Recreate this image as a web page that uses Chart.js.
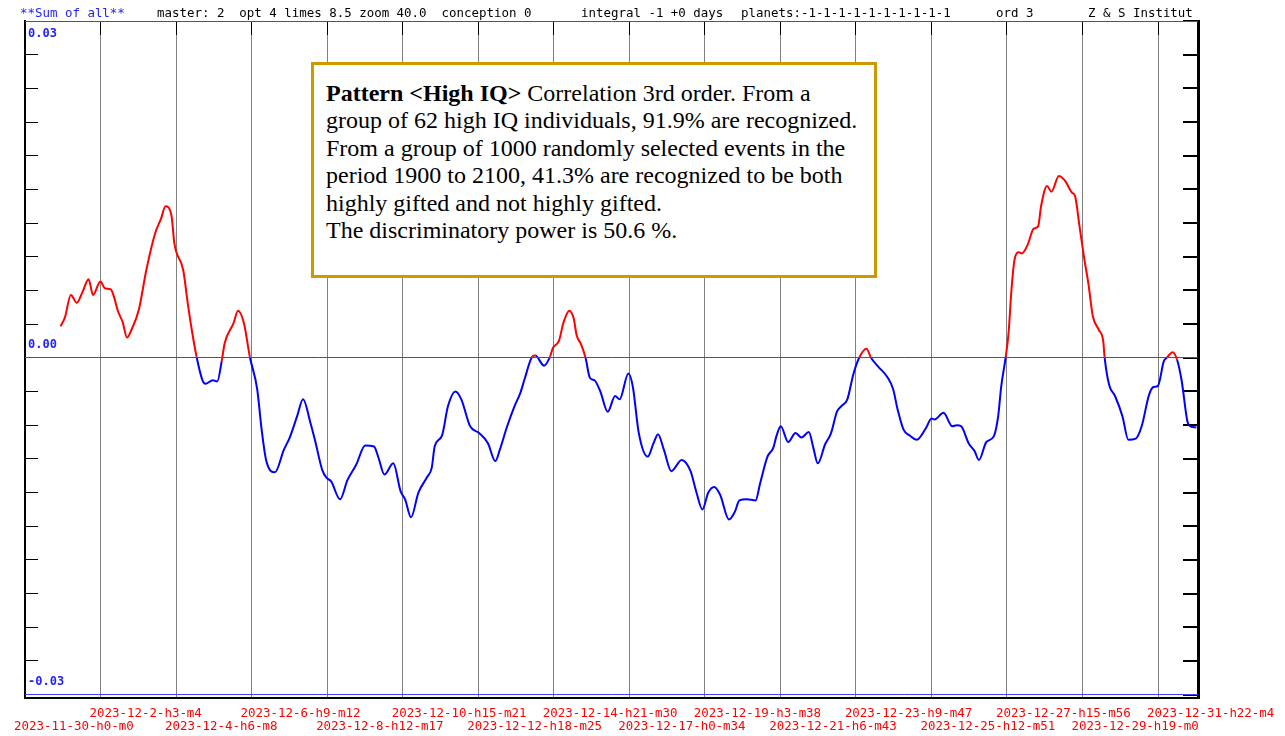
<!DOCTYPE html>
<html>
<head>
<meta charset="utf-8">
<script src="https://cdn.jsdelivr.net/npm/chart.js@4.4.1/dist/chart.umd.min.js"></script>
<style>
html,body{margin:0;padding:0;background:#fff;}
#wrap{position:relative;width:1285px;height:736px;overflow:hidden;background:#fff;}
#c{position:absolute;left:0;top:0;}
.hd{position:absolute;top:6px;font-family:"DejaVu Sans Mono",monospace;font-size:12.45px;line-height:14px;white-space:pre;color:#000;}
#box{position:absolute;left:311px;top:62px;width:566px;height:216px;box-sizing:border-box;border:3px solid #cc9900;background:#fff;
 padding:15px 0 0 12px;font-family:"Liberation Serif","Times New Roman",serif;font-size:24px;line-height:27.4px;white-space:nowrap;color:#000;}
</style>
</head>
<body>
<div id="wrap">
<canvas id="c" width="1285" height="736"></canvas>
<div class="hd" style="left:20px;color:#2222ff">**Sum of all**</div>
<div class="hd" style="left:157px">master: 2  opt 4 limes 8.5 zoom 40.0  conception 0</div>
<div class="hd" style="left:581px">integral -1 +0 days</div>
<div class="hd" style="left:741px">planets:-1-1-1-1-1-1-1-1-1-1</div>
<div class="hd" style="left:996px">ord 3</div>
<div class="hd" style="left:1088px">Z &amp; S Institut</div>
<div id="box"><b>Pattern &lt;High IQ&gt;</b> Correlation 3rd order. From a<br>group of 62 high IQ individuals, 91.9% are recognized.<br>From a group of 1000 randomly selected events in the<br>period 1900 to 2100, 41.3% are recognized to be both<br>highly gifted and not highly gifted.<br>The discriminatory power is 50.6 %.</div>
</div>
<script>
// ---- DATA ----
const xTickLabels = ['2023-11-30-h0-m0','2023-12-2-h3-m4','2023-12-4-h6-m8','2023-12-6-h9-m12','2023-12-8-h12-m17','2023-12-10-h15-m21','2023-12-12-h18-m25','2023-12-14-h21-m30','2023-12-17-h0-m34','2023-12-19-h3-m38','2023-12-21-h6-m43','2023-12-23-h9-m47','2023-12-25-h12-m51','2023-12-27-h15-m56','2023-12-29-h19-m0','2023-12-31-h22-m4'];

// hours since 2023-11-30 h0 m0
const hours = [24,27,31,35,39,43,46,51,54,58,60,63,66,69,72,77,82,88,92,95,99,101,107,110,113,116,120,122,127,130,133,135,141,144,148,152,157,160,163,169,175,179,184,188,193,196,201,204,207,213,218,224,230,236,239,243,249,254,257,261,266,272,275,277,282,286,291,295,301,307,313,318,321,326,331,335,338,343,345,351,355,357,361,364,368,371,373,376,379,382,385,389,394,399,402,408,411,415,421,425,428,432,437,444,450,454,458,462,466,470,476,480,483,488,494,497,502,506,508,511,516,521,525,530,533,536,541,545,549,552,556,560,564,569,572,577,583,587,590,594,598,603,609,613,615,621,627,630,633,638,642,645,650,655,658,660,663,665,667,669,672,674,678,682,685,687,691,694,699,703,708,710,713,716,719,722,726,729,730,733,737,742,746,751,755,760,763,766,770,772,776,779,782,786,788,792];

const values = [0.0028,0.0036,0.0056,0.0049,0.0059,0.0070,0.0056,0.0068,0.0062,0.0061,0.0055,0.0041,0.0032,0.0018,0.0025,0.0043,0.0078,0.0111,0.0124,0.0135,0.0127,0.0102,0.0078,0.0049,0.0023,0.0001,-0.0020,-0.0023,-0.0020,-0.0021,-0.0003,0.0013,0.0031,0.0042,0.0031,0.0001,-0.0028,-0.0064,-0.0091,-0.0102,-0.0082,-0.0071,-0.0052,-0.0037,-0.0058,-0.0073,-0.0100,-0.0107,-0.0110,-0.0126,-0.0109,-0.0095,-0.0078,-0.0079,-0.0089,-0.0104,-0.0094,-0.0119,-0.0126,-0.0142,-0.0120,-0.0106,-0.0098,-0.0079,-0.0069,-0.0043,-0.0030,-0.0037,-0.0061,-0.0067,-0.0076,-0.0092,-0.0082,-0.0061,-0.0043,-0.0031,-0.0018,0.0001,0.0002,-0.0007,0.0001,0.0009,0.0015,0.0031,0.0042,0.0035,0.0020,0.0012,0.0000,-0.0018,-0.0020,-0.0030,-0.0048,-0.0034,-0.0037,-0.0014,-0.0026,-0.0067,-0.0088,-0.0076,-0.0068,-0.0082,-0.0101,-0.0091,-0.0101,-0.0120,-0.0135,-0.0120,-0.0115,-0.0122,-0.0144,-0.0137,-0.0127,-0.0126,-0.0127,-0.0112,-0.0088,-0.0080,-0.0070,-0.0061,-0.0075,-0.0067,-0.0071,-0.0066,-0.0080,-0.0094,-0.0077,-0.0067,-0.0048,-0.0043,-0.0037,-0.0015,0.0000,0.0008,0.0000,-0.0008,-0.0017,-0.0028,-0.0046,-0.0064,-0.0069,-0.0073,-0.0063,-0.0054,-0.0055,-0.0049,-0.0061,-0.0060,-0.0061,-0.0076,-0.0083,-0.0091,-0.0075,-0.0070,-0.0052,-0.0026,0.0000,0.0022,0.0061,0.0087,0.0094,0.0093,0.0101,0.0115,0.0117,0.0135,0.0153,0.0148,0.0162,0.0158,0.0147,0.0144,0.0117,0.0090,0.0066,0.0037,0.0025,0.0015,0.0000,-0.0024,-0.0034,-0.0052,-0.0073,-0.0072,-0.0061,-0.0033,-0.0026,-0.0025,-0.0003,0.0000,0.0005,-0.0002,-0.0020,-0.0057,-0.0061,-0.0062];

const yLabelValues = [0.03, 0, -0.03];
const yLabelTexts = ['0.03', '0.00', '-0.03'];
const yMin = -0.0303, yMax = 0.03, yTickStep = 0.003;
const xMaxHours = 793.1;

// ---- helpers ----
function labelToHours(s){
  const p = s.split('-');
  const t = Date.UTC(+p[0], +p[1]-1, +p[2], +p[3].slice(1), +p[4].slice(1));
  return (t - Date.UTC(2023,10,30,0,0)) / 3600000;
}
const xTickHours = xTickLabels.map(labelToHours);
const yTickValues = [];
for (let i = -10; i <= 10; i++) yTickValues.push(+(i*yTickStep).toFixed(4));
function labelIndex(v){ return yLabelValues.findIndex(l => Math.abs(l - v) < 1e-9); }

const RED = '#ff0000', BLUE = '#0000ff', REFBLUE = '#3f3fff', GRIDGRAY = '#808080';
const PLOT_H = 677; // chart-area height in px, used as full-length x tick marks

new Chart(document.getElementById('c'), {
  type: 'line',
  data: {
    datasets: [{
      yAxisID: 'y', xAxisID: 'x',
      data: hours.map((h, i) => ({x: h, y: values[i]})),
      borderWidth: 2,
      pointRadius: 0,
      cubicInterpolationMode: 'monotone',
      borderColor: BLUE,
      fill: false,
      segment: { borderColor: c => ((c.p0.parsed.y + c.p1.parsed.y) / 2 > 0 ? RED : BLUE) }
    }]
  },
  options: {
    responsive: false,
    animation: false,
    devicePixelRatio: 1,
    events: [],
    layout: { padding: 0 },
    plugins: { legend: { display: false }, tooltip: { enabled: false }, title: { display: false } },
    scales: {
      x: {
        type: 'linear', position: 'bottom', min: 0, max: xMaxHours,
        afterBuildTicks: s => { s.ticks = xTickHours.map(v => ({value: v})); },
        afterFit: s => { s.height = 38; s.paddingLeft = 0; s.paddingRight = 0; },
        grid: { drawOnChartArea: false, color: GRIDGRAY, lineWidth: 1, tickLength: -PLOT_H, tickColor: GRIDGRAY },
        border: { color: '#000', width: 2 },
        ticks: {
          autoSkip: false, maxRotation: 0, minRotation: 0, align: 'start', labelOffset: -11, padding: PLOT_H + 9.5,
          color: RED, font: { family: 'DejaVu Sans Mono', size: 12.45, lineHeight: '13px' },
          callback: (v, i) => (i % 2 ? [xTickLabels[i]] : ['', xTickLabels[i]])
        }
      },
      xTop: {
        type: 'linear', position: 'top', min: 0, max: xMaxHours,
        afterBuildTicks: s => { s.ticks = xTickHours.map(v => ({value: v})); },
        afterFit: s => { s.height = 21; s.paddingLeft = 0; s.paddingRight = 0; },
        grid: { drawOnChartArea: false, color: GRIDGRAY, tickLength: -14, tickColor: '#000', lineWidth: 1 },
        border: { display: false },
        ticks: { display: false }
      },
      y: {
        type: 'linear', position: 'left', min: yMin, max: yMax,
        afterBuildTicks: s => { s.ticks = yTickValues.map(v => ({value: v})); },
        afterFit: s => { s.width = 25; s.paddingTop = 0; s.paddingBottom = 0; },
        grid: { color: REFBLUE, drawOnChartArea: false, lineWidth: 1, tickLength: -13, tickColor: '#000' },
        border: { color: '#000', width: 2 },
        ticks: {
          autoSkip: false, mirror: true, padding: 3, color: '#2222ff',
          font: { family: 'DejaVu Sans Mono', size: 12, weight: 'bold', lineHeight: '26px' },
          callback: v => {
            const k = labelIndex(v);
            if (k < 0) return '';
            return yLabelValues[k] > 0 ? ['', yLabelTexts[k]] : [yLabelTexts[k], ''];
          }
        }
      },
      yRef: {
        type: 'linear', position: 'left', min: yMin, max: yMax,
        afterBuildTicks: s => { s.ticks = yLabelValues.map(v => ({value: v})); },
        afterFit: s => { s.width = 0; s.paddingTop = 0; s.paddingBottom = 0; },
        grid: { color: REFBLUE, lineWidth: 1, drawTicks: false, drawOnChartArea: true, z: 1 },
        border: { display: false },
        ticks: { display: false }
      },
      yR: {
        type: 'linear', position: 'right', min: yMin, max: yMax,
        afterBuildTicks: s => { s.ticks = yTickValues.map(v => ({value: v})); },
        afterFit: s => { s.width = 87; s.paddingTop = 0; s.paddingBottom = 0; },
        grid: { drawOnChartArea: false, color: GRIDGRAY, tickLength: -15, tickColor: '#000', lineWidth: 2 },
        border: { color: '#000', width: 3 },
        ticks: { display: false }
      }
    }
  }
});
</script>
</body>
</html>
